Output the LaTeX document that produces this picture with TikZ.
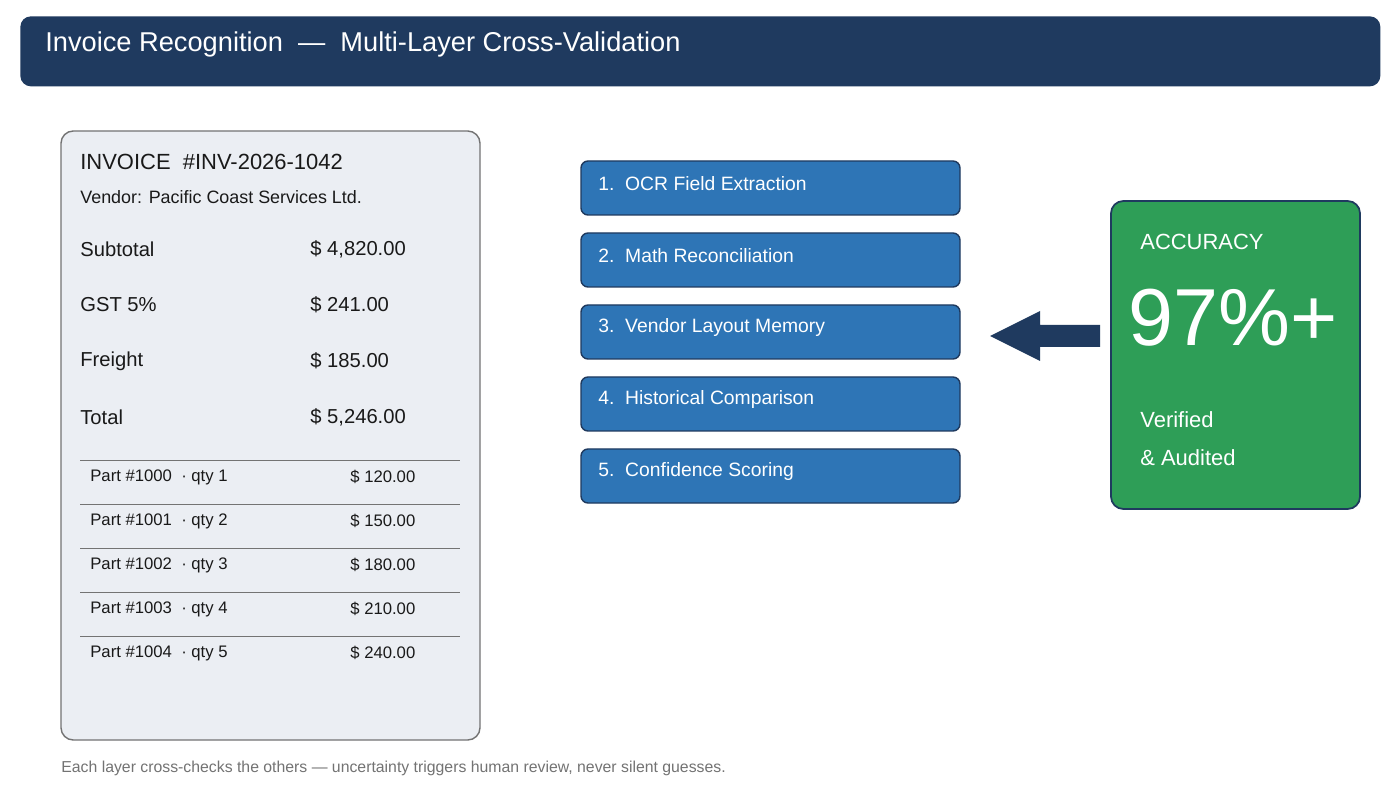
\documentclass[tikz,border=0pt]{standalone}
\usepackage{fontspec}
\setmainfont{Liberation Sans}
\begin{document}
\begin{tikzpicture}[x=0.02cm,y=-0.02cm,
  card/.style={draw=black!55,line width=0.8pt,fill=cardbg,rounded corners=7pt},
  layer/.style={draw=navy,line width=0.8pt,fill=layerblue,rounded corners=4pt},
  t/.style={anchor=west,inner sep=0pt,text=black!90},
  lt/.style={anchor=west,inner sep=0pt,text=white,font=\fontsize{11}{13}\selectfont},
  row/.style={t,font=\fontsize{9.5}{11}\selectfont},
  big/.style={t,font=\fontsize{11.5}{14}\selectfont},
  sep/.style={draw=black!55,line width=0.5pt}]
\definecolor{navy}{HTML}{1F3A5F}
\definecolor{cardbg}{HTML}{EBEEF3}
\definecolor{layerblue}{HTML}{2E75B6}
\definecolor{accgreen}{HTML}{2E9E57}
\useasboundingbox (0,0) rectangle (1400,800);
\fill[white] (0,0) rectangle (1400,800);
% header
\node[fill=navy,rounded corners=6pt,minimum width=1360*0.02cm,minimum height=70*0.02cm,inner sep=0pt,anchor=north west] (hdr) at (20,16) {};
\node[anchor=west,inner sep=0pt,text=white,font=\fontsize{15.5}{18}\selectfont] (title) at (45,44) {Invoice Recognition\ \ —\ \ Multi-Layer Cross-Validation};
% invoice card
\draw[card] (61,131) rectangle (480,740);
\node[t,font=\fontsize{12.5}{15}\selectfont] (inv) at (80,162) {INVOICE\ \ \#INV-2026-1042};
\node[t,font=\fontsize{10.2}{12}\selectfont] (vend) at (80,197) {Vendor: Pacific Coast Services Ltd.};
\foreach \lab/\val/\y [count=\i] in {Subtotal/{\$ 4,820.00}/249,GST 5\%/{\$ 241.00}/305,Freight/{\$ 185.00}/361,Total/{\$ 5,246.00}/417}{
  \node[big] (k\i) at (80,\y) {\lab};
  \node[big] (v\i) at (310,\y) {\val};
}
\foreach \n/\q/\val/\y in {1000/1/120.00/477,1001/2/150.00/521,1002/3/180.00/565,1003/4/210.00/609,1004/5/240.00/653}{
  \draw[sep] (80,\y-17) -- (460,\y-17);
  \node[row] (p\n) at (90,\y) {Part \#\n\ \ · qty \q};
  \node[row] (pv\n) at (350,\y) {\$ \val};
}
% layers
\foreach \lab/\y [count=\i] in {OCR Field Extraction/161,Math Reconciliation/233,Vendor Layout Memory/305,Historical Comparison/377,Confidence Scoring/449}{
  \draw[layer] (581,\y) rectangle (960,\y+54);
  \node[lt] (L\i) at (598,\y+23) {\i.\ \ \lab};
}
% accuracy box
\draw[draw=navy,line width=1pt,fill=accgreen,rounded corners=7pt] (1111,201) rectangle (1360,509);
\coordinate (accL) at (1111,336);
\node[anchor=west,inner sep=0pt,text=white,font=\fontsize{12.5}{15}\selectfont] (acc) at (1140,242) {ACCURACY};
\node[anchor=west,inner sep=0pt,text=white,font=\fontsize{46}{50}\selectfont] (pct) at (1128,318) {97\%+};
\node[anchor=west,inner sep=0pt,text=white,font=\fontsize{12.5}{15}\selectfont] (ver) at (1140,420) {Verified};
\node[anchor=west,inner sep=0pt,text=white,font=\fontsize{12.5}{15}\selectfont] (aud) at (1140,458) {\& Audited};
% arrow
\fill[navy] (990,336) -- (1040,311) -- (1040,325) -- (1100,325) -- (1100,347) -- (1040,347) -- (1040,361) -- cycle;
% footer
\node[anchor=west,inner sep=0pt,text=black!55,font=\fontsize{9}{11}\selectfont] (foot) at (61,768) {Each layer cross-checks the others — uncertainty triggers human review, never silent guesses.};
\end{tikzpicture}
\end{document}
